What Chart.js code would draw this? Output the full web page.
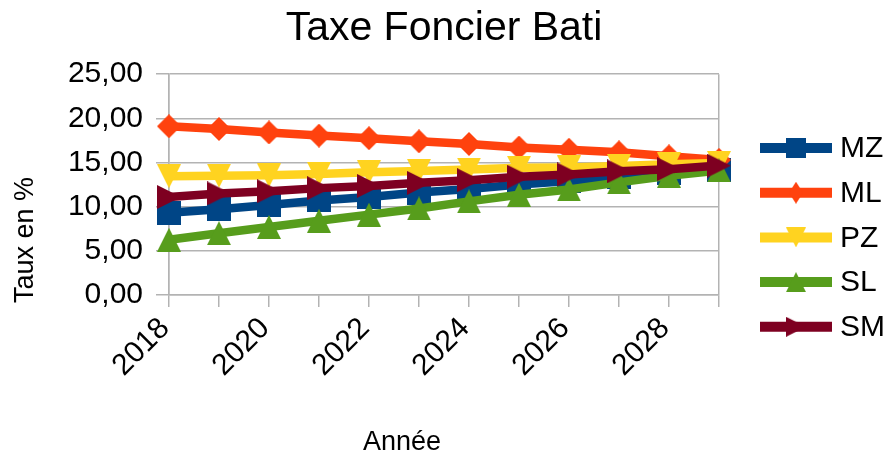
<!DOCTYPE html>
<html>
<head>
<meta charset="utf-8">
<script src="https://cdn.jsdelivr.net/npm/chart.js@4/dist/chart.umd.min.js"></script>
<style>
html,body{margin:0;padding:0;background:#ffffff;}
#wrap{width:888px;height:456px;}
</style>
</head>
<body>
<div id="wrap"><canvas id="c" width="888" height="456"></canvas></div>
<script>
// ---- data ----
const years = ['2018','2019','2020','2021','2022','2023','2024','2025','2026','2027','2028','2029'];
const seriesNames = ['MZ','ML','PZ','SL','SM'];
const mz = [9.3, 9.7, 10.2, 10.7, 11.1, 11.6, 12.0, 12.5, 12.9, 13.4, 13.8, 14.1];
const ml = [19.1, 18.8, 18.4, 18.05, 17.75, 17.4, 17.1, 16.7, 16.45, 16.15, 15.7, 15.3];
const pz = [13.45, 13.5, 13.55, 13.7, 13.9, 14.05, 14.2, 14.4, 14.45, 14.6, 14.8, 14.95];
const sl = [6.25, 7.0, 7.7, 8.4, 9.1, 9.8, 10.6, 11.35, 11.95, 12.75, 13.5, 14.1];
const sm = [11.1, 11.5, 11.75, 12.1, 12.35, 12.7, 13.0, 13.4, 13.65, 14.0, 14.25, 14.65];
const yTickValues = [0, 5, 10, 15, 20, 25];
const chartTitle = 'Taxe Foncier Bati';
const xTitle = 'Année';
const yTitle = 'Taux en %';

// ---- styles ----
const FONT = '"Liberation Sans", Arial, sans-serif';
const colors = ['#004586', '#ff420e', '#ffd320', '#579d1c', '#7e0021'];
const shapes = ['square', 'diamond', 'down', 'up', 'right'];
const GRID = '#b3b3b3';

function makeMarker(shape, color, w, h) {
  const cv = document.createElement('canvas');
  cv.width = w; cv.height = h;
  const c = cv.getContext('2d');
  c.fillStyle = color;
  c.beginPath();
  if (shape === 'square') { c.rect(0, 0, w, h); }
  else if (shape === 'diamond') { c.moveTo(w/2, 0); c.lineTo(w, h/2); c.lineTo(w/2, h); c.lineTo(0, h/2); }
  else if (shape === 'down') { c.moveTo(0, 0); c.lineTo(w, 0); c.lineTo(w/2, h); }
  else if (shape === 'up') { c.moveTo(w/2, 0); c.lineTo(w, h); c.lineTo(0, h); }
  else if (shape === 'right') { c.moveTo(0, 0); c.lineTo(w, h/2); c.lineTo(0, h); }
  c.closePath();
  c.fill();
  return cv;
}

const seriesData = [mz, ml, pz, sl, sm];
const datasets = seriesNames.map((name, i) => ({
  label: name,
  data: seriesData[i],
  borderColor: colors[i],
  backgroundColor: colors[i],
  borderWidth: 8.5,
  tension: 0,
  pointStyle: makeMarker(shapes[i], colors[i], 24, 24),
  pointRadius: 12,
  pointHoverRadius: 12,
  order: seriesNames.length - 1 - i,
  clip: false
}));

const legendMarkers = shapes.map((s, i) => s === 'diamond'
  ? makeMarker(s, colors[i], 14, 22)
  : makeMarker(s, colors[i], 20, 20));

const customLegend = {
  id: 'customLegend',
  afterDraw(chart) {
    const ctx = chart.ctx;
    ctx.save();
    const x0 = 760, x1 = 832, textX = 840, y0 = 148, step = 44.7;
    seriesNames.forEach((name, i) => {
      const y = y0 + i * step;
      ctx.strokeStyle = colors[i];
      ctx.lineWidth = 10;
      ctx.lineCap = 'butt';
      ctx.beginPath(); ctx.moveTo(x0, y); ctx.lineTo(x1, y); ctx.stroke();
      const m = legendMarkers[i];
      ctx.drawImage(m, (x0 + x1) / 2 - m.width / 2, y - m.height / 2);
      ctx.fillStyle = '#000';
      ctx.font = '30px ' + FONT;
      ctx.textAlign = 'left';
      ctx.textBaseline = 'middle';
      ctx.fillText(name, textX, y + 1);
    });
    ctx.restore();
  }
};

const axisTitles = {
  id: 'axisTitles',
  afterDraw(chart) {
    const ctx = chart.ctx;
    ctx.save();
    ctx.fillStyle = '#000';
    ctx.font = '27px ' + FONT;
    ctx.textAlign = 'center';
    ctx.textBaseline = 'middle';
    ctx.fillText(xTitle, 402, 443);
    ctx.translate(26, 240);
    ctx.rotate(-Math.PI / 2);
    ctx.fillText(yTitle, 0, 0);
    ctx.restore();
  }
};

Chart.defaults.font.family = FONT;
Chart.defaults.color = '#000';

new Chart(document.getElementById('c'), {
  type: 'line',
  data: { labels: years, datasets },
  options: {
    responsive: false,
    animation: false,
    events: [],
    layout: { padding: 0 },
    plugins: {
      legend: { display: false },
      tooltip: { enabled: false },
      title: {
        display: true,
        text: chartTitle,
        color: '#000',
        font: { size: 41, weight: 'normal', family: FONT, lineHeight: 1.2 },
        padding: { top: 4, bottom: 21 }
      }
    },
    scales: {
      x: {
        type: 'category',
        offset: false,
        grid: {
          display: true,
          drawOnChartArea: true,
          color: (ctx) => (ctx.index === 0 || ctx.index === years.length - 1) ? GRID : 'rgba(0,0,0,0)',
          tickColor: GRID,
          tickLength: 12,
          lineWidth: 1.5
        },
        border: { display: true, color: GRID, width: 1.5 },
        ticks: {
          autoSkip: false,
          minRotation: 45,
          maxRotation: 45,
          padding: 4,
          labelOffset: -4,
          color: '#000',
          font: { size: 30, family: FONT },
          callback: (v, i) => (i % 2 === 0 ? years[i] : '')
        },
        afterFit: (s) => { s.height = 161; }
      },
      y: {
        type: 'linear',
        position: 'left',
        min: 0,
        max: 25,
        afterBuildTicks: (s) => { s.ticks = yTickValues.map(v => ({ value: v })); },
        grid: { color: GRID, tickColor: GRID, tickLength: 13, lineWidth: 1.5 },
        border: { display: true, color: GRID, width: 1.5 },
        ticks: {
          padding: 13,
          color: '#000',
          font: { size: 30, family: FONT },
          callback: (v) => Number(v).toFixed(2).replace('.', ',')
        },
        afterFit: (s) => { s.width = 169; }
      },
      yRight: {
        type: 'linear',
        position: 'right',
        display: true,
        grid: { display: false, drawTicks: false },
        border: { display: false },
        ticks: { display: false },
        afterFit: (s) => { s.width = 169; }
      }
    }
  },
  plugins: [customLegend, axisTitles]
});
</script>
</body>
</html>
